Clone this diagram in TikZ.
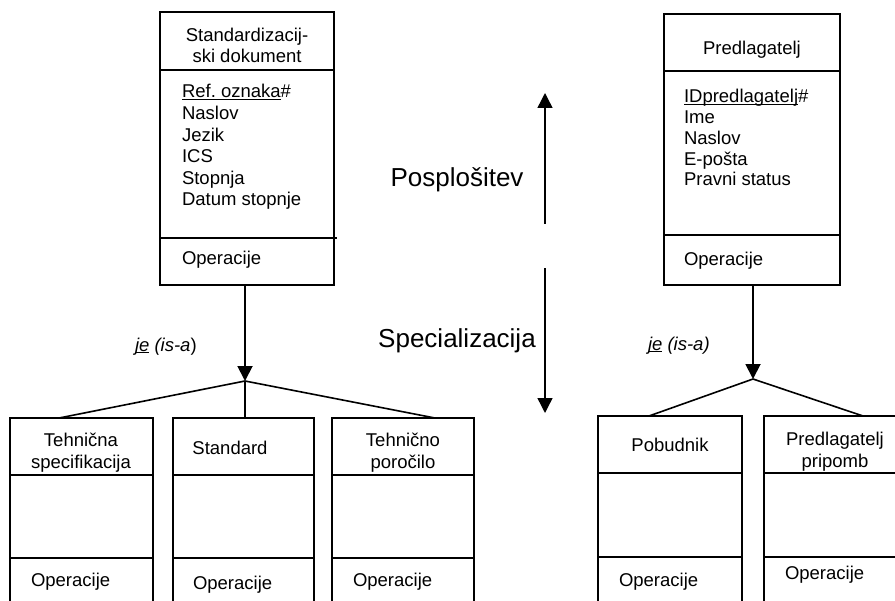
\documentclass[tikz,border=0pt]{standalone}
\usepackage{fontspec}
\setmainfont{Liberation Sans}
\usetikzlibrary{arrows.meta,calc}
\frenchspacing
% underline set just below the baseline, ignoring descenders
\newcommand{\keyul}[1]{\underline{\smash{#1}}}

\begin{document}
\begin{tikzpicture}[x=1bp,y=-1bp,
  every node/.style={font=\fontsize{18.5bp}{21.6bp}\selectfont, inner sep=0pt, outer sep=0pt},
  classbox/.style 2 args={draw, line width=1.9bp, anchor=north west,
    minimum width=#1, minimum height=#2},
  divider/.style={line width=1.9bp},
  isa/.style={line width=1.9bp, -{Triangle[width=15bp,length=15bp]}},
  branch/.style={line width=1.6bp},
  trend/.style={line width=1.4bp, -{Triangle[width=15bp,length=15bp]}},
  attrs/.style={anchor=base west, align=left},
  title/.style={anchor=base, align=center},
  big/.style={font=\fontsize{26bp}{30bp}\selectfont, anchor=base}]

\path[use as bounding box, clip] (0,0) rectangle (895,601);

% ---------- parent classes ----------
% (the base anchor of a multi-line node sits on its last line)
\node[classbox={174bp}{273bp}] (sd) at (160,12) {};
\draw[divider] (160,70) -- (335,70);
\draw[divider] (160,238) -- (337,238);
\node[title] (sdT) at (247,63) {Standardizacij-\\ski dokument};
\node[attrs] (sdA) at (182,206) {\keyul{Ref. oznaka}\#\\Naslov\\Jezik\\ICS\\Stopnja\\Datum stopnje};
\node[attrs] (sdO) at (182,265) {Operacije};

\node[classbox={176bp}{271bp}] (pr) at (664,14) {};
\draw[divider] (664,71) -- (840,71);
\draw[divider] (664,235) -- (840,235);
\node[title] (prT) at (752,55) {Predlagatelj};
\node[attrs, font=\fontsize{18.5bp}{20.8bp}\selectfont] (prA) at (684,186) {\keyul{IDpredlagatelj}\#\\Ime\\Naslov\\E-pošta\\Pravni status};
\node[attrs] (prO) at (684,266) {Operacije};

% ---------- subclasses of the standardisation document ----------
\node[classbox={143bp}{202bp}] (ts) at (10,418) {};
\draw[divider] (10,475) -- (153,475);
\draw[divider] (10,558) -- (153,558);
\node[title] (tsT) at (81,468) {Tehnična\\specifikacija};
\node[attrs] (tsO) at (31,586.6) {Operacije};

\node[classbox={141bp}{202bp}] (st) at (173,418) {};
\draw[divider] (173,475) -- (314,475);
\draw[divider] (173,558) -- (314,558);
\node[title] (stT) at (230,454) {Standard};
\node[attrs] (stO) at (193,589) {Operacije};

\node[classbox={142bp}{202bp}] (tp) at (332,418) {};
\draw[divider] (332,475) -- (474,475);
\draw[divider] (332,558) -- (474,558);
\node[title] (tpT) at (403,468) {Tehnično\\poročilo};
\node[attrs] (tpO) at (353,586.6) {Operacije};

% ---------- subclasses of the proposer ----------
\node[classbox={144bp}{204bp}] (pb) at (598,416) {};
\draw[divider] (598,473) -- (742,473);
\draw[divider] (598,557) -- (742,557);
\node[title] (pbT) at (670,451) {Pobudnik};
\node[attrs] (pbO) at (619,586.6) {Operacije};

\node[classbox={144bp}{204bp}] (pp) at (764,416) {};
\draw[divider] (764,473) -- (908,473);
\draw[divider] (764,557) -- (908,557);
\node[title] (ppT) at (835,467) {Predlagatelj\\pripomb};
\node[attrs] (ppO) at (785,579.3) {Operacije};

% ---------- is-a connectors ----------
\coordinate (b1) at (245,381);
\coordinate (b2) at (753,379);
\draw[isa] (b1 |- sd.south) -- (b1);
\draw[isa] (b2 |- pr.south) -- (b2);
\draw[branch] (b1) -- ($(ts.north west)!0.343!(ts.north east)$);
\draw[branch] (b1) -- (b1 |- st.north);
\draw[branch] (b1) -- ($(tp.north west)!0.725!(tp.north east)$);
\draw[branch] (b2) -- ($(pb.north west)!0.354!(pb.north east)$);
\draw[branch] (b2) -- ($(pp.north west)!0.6875!(pp.north east)$);

\node[anchor=base west] (isaL) at (135,351) {\textit{\keyul{je} (is-a}\/)};
\node[anchor=base west] (isaR) at (648,350) {\textit{\keyul{je} (is-a)}};

% ---------- generalisation / specialisation ----------
\coordinate (genA) at (545,224);
\coordinate (genB) at (545,93);
\coordinate (speA) at (545,268);
\coordinate (speB) at (545,413);
\draw[trend] (genA) -- (genB);
\draw[trend] (speA) -- (speB);
\node[big] (gen) at (457,187) {Posplošitev};
\node[big] (spe) at (457,347) {Specializacija};

\end{tikzpicture}
\end{document}
